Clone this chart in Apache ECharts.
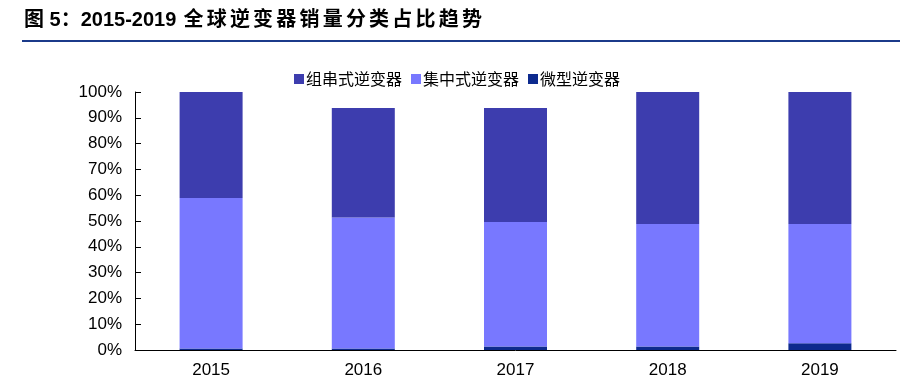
<!DOCTYPE html>
<html>
<head>
<meta charset="utf-8">
<script src="https://cdn.jsdelivr.net/npm/echarts@6/dist/echarts.min.js"></script>
<style>
html,body{margin:0;padding:0;background:#fff;}
#c{width:915px;height:379px;}
</style>
</head>
<body>
<div id="c"></div>
<script>
var categories = ['2015', '2016', '2017', '2018', '2019'];
var microValues = [0.6, 0.6, 1.4, 1.4, 2.6];
var centralValues = [58.3, 50.8, 48.2, 47.4, 46.2];
var stringValues = [41.1, 42.4, 44.2, 51.2, 51.2];
var seriesNames = ['组串式逆变器', '集中式逆变器', '微型逆变器'];
var titlePrefix = '图 5：';
var titleYears = '2015-2019 ';
var titleMain = '全球逆变器销量分类占比趋势';

var titleRich = '{a|' + titlePrefix + '}{a|' + titleYears + '}' +
  titleMain.split('').map(function (ch) { return '{c|' + ch + '}'; }).join('');

var chart = echarts.init(document.getElementById('c'));
var axisFont = {fontFamily: 'Liberation Sans, Arial, sans-serif', fontSize: 17, color: '#000'};
var titleFont = {fontFamily: '"Liberation Sans", "Noto Sans CJK SC", sans-serif', fontSize: 20, fontWeight: 'bold', color: '#1B3A8A'};
chart.setOption({
  animation: false,
  backgroundColor: '#fff',
  graphic: [
    {type: 'text', left: 24, top: 10, style: {
      text: titleRich,
      rich: {
        a: Object.assign({}, titleFont),
        c: Object.assign({padding: [0, 1.6, 0, 1.6]}, titleFont)
      }
    }},
    {type: 'rect', left: 22, top: 40, shape: {width: 878, height: 2}, style: {fill: '#1B3A8A'}}
  ],
  legend: {
    data: seriesNames,
    left: 289, top: 66,
    itemWidth: 10, itemHeight: 10, itemGap: 9,
    icon: 'rect',
    textStyle: {fontFamily: '"Noto Sans CJK SC", sans-serif', fontSize: 16, color: '#000', padding: [0, 0, 0, -3]}
  },
  grid: {left: 135, right: 19, top: 92, bottom: 29, containLabel: false},
  xAxis: {
    type: 'category', data: categories,
    axisLine: {lineStyle: {color: '#000', width: 1}},
    axisTick: {inside: true, length: 6, lineStyle: {color: '#000'}},
    axisLabel: Object.assign({margin: 12}, axisFont)
  },
  yAxis: {
    type: 'value', min: 0, max: 100, interval: 10,
    splitLine: {show: false},
    axisLine: {show: true, lineStyle: {color: '#000', width: 1}},
    axisTick: {show: true, inside: true, length: 6, lineStyle: {color: '#000'}},
    axisLabel: Object.assign({margin: 13, formatter: '{value}%'}, axisFont)
  },
  series: [
    {name: seriesNames[2], type: 'bar', stack: 's', data: microValues, barWidth: 63, itemStyle: {color: '#0D2A8E'}},
    {name: seriesNames[1], type: 'bar', stack: 's', data: centralValues, barWidth: 63, itemStyle: {color: '#7878FF'}},
    {name: seriesNames[0], type: 'bar', stack: 's', data: stringValues, barWidth: 63, itemStyle: {color: '#3D3DAE'}}
  ]
});
</script>
</body>
</html>
